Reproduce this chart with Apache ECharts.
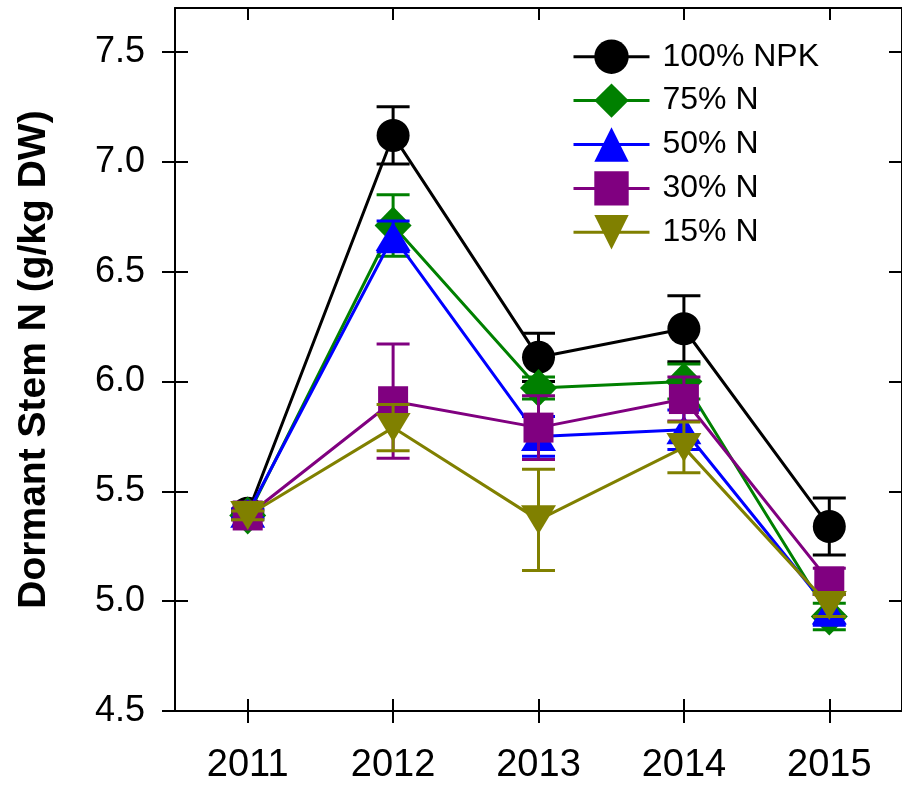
<!DOCTYPE html>
<html><head><meta charset="utf-8">
<script src="https://cdn.jsdelivr.net/npm/echarts@6/dist/echarts.min.js"></script>
<style>html,body{margin:0;padding:0;background:#fff}#c{width:902px;height:785px}</style>
</head><body><div id="c"></div>
<script>
const years = ['2011', '2012', '2013', '2014', '2015'];
const yTicks = [4.5, 5.0, 5.5, 6.0, 6.5, 7.0, 7.5];
const names = ['100% NPK', '75% N', '50% N', '30% N', '15% N'];
const npk100 = [5.40, 7.12, 6.11, 6.24, 5.34];
const npk100Err = [0.02, 0.13, 0.11, 0.15, 0.13];
const n75 = [5.39, 6.71, 5.97, 6.00, 4.93];
const n75Err = [0.02, 0.14, 0.05, 0.08, 0.06];
const n50 = [5.40, 6.66, 5.75, 5.78, 4.96];
const n50Err = [0.02, 0.07, 0.09, 0.09, 0.07];
const n30 = [5.39, 5.91, 5.79, 5.92, 5.09];
const n30Err = [0.02, 0.26, 0.145, 0.10, 0.06];
const n15 = [5.39, 5.79, 5.37, 5.70, 4.98];
const n15Err = [0.02, 0.105, 0.23, 0.115, 0.05];

const FONT = 'Liberation Sans, Arial, sans-serif';
const colors = ['#000000', '#008000', '#0000ff', '#800080', '#808000'];
const vals = [npk100, n75, n50, n30, n15];
const errs = [npk100Err, n75Err, n50Err, n30Err, n15Err];
const symbols = ['circle', 'diamond', 'triangle', 'rect', 'triangle'];
const symSizes = [33, [37, 38], [35, 29], 30, [35, 29]];
const symRot = [0, 0, 0, 0, 180];

function errSeries(v, e, color, z) {
  return {
    type: 'custom',
    xAxisIndex: 0, yAxisIndex: 0,
    silent: true, z: z,
    data: v.map((d, i) => [i, d - e[i], d + e[i]]),
    encode: { x: 0, y: [1, 2] },
    renderItem: function (params, api) {
      const x = api.value(0);
      const lo = api.coord([x, api.value(1)]);
      const hi = api.coord([x, api.value(2)]);
      const hw = 16.5;
      const st = { stroke: color, lineWidth: 3 };
      return {
        type: 'group', children: [
          { type: 'line', shape: { x1: lo[0], y1: lo[1], x2: hi[0], y2: hi[1] }, style: st },
          { type: 'line', shape: { x1: lo[0] - hw, y1: lo[1], x2: lo[0] + hw, y2: lo[1] }, style: st },
          { type: 'line', shape: { x1: hi[0] - hw, y1: hi[1], x2: hi[0] + hw, y2: hi[1] }, style: st }
        ]
      };
    }
  };
}

const series = [];
names.forEach((n, i) => {
  series.push(errSeries(vals[i], errs[i], colors[i], 2 + i * 2));
  series.push({
    type: 'line', name: n, data: vals[i],
    xAxisIndex: 0, yAxisIndex: 0,
    symbol: symbols[i], symbolSize: symSizes[i], symbolRotate: symRot[i],
    showAllSymbol: true,
    lineStyle: { color: colors[i], width: 3 },
    itemStyle: { color: colors[i], borderWidth: 0 },
    emphasis: { disabled: true },
    animation: false,
    z: 3 + i * 2
  });
});

const axLine = { show: true, lineStyle: { color: '#000', width: 2 } };
const tickStyle = { color: '#000', width: 2 };
function yAx(pos, inside, main) {
  return {
    type: 'value', min: 4.5, max: 7.7, position: pos,
    axisLine: main ? axLine : { show: false },
    axisTick: { show: true, inside: inside, length: 13, lineStyle: tickStyle, customValues: yTicks },
    axisLabel: main && pos === 'left' ? { show: true, customValues: yTicks, formatter: v => v.toFixed(1), margin: 30, fontSize: 36, color: '#000', fontFamily: FONT } : { show: false },
    splitLine: { show: false },
    name: main && pos === 'left' ? 'Dormant Stem N (g/kg DW)' : '',
    nameLocation: 'middle', nameGap: 121,
    nameTextStyle: { fontSize: 39, fontWeight: 'bold', color: '#000', fontFamily: FONT }
  };
}
function xAx(pos, inside, main, labels) {
  return {
    type: 'category', data: years, position: pos, boundaryGap: true,
    axisLine: main ? axLine : { show: false },
    axisTick: { show: true, inside: inside, alignWithLabel: true, length: 12, lineStyle: tickStyle },
    axisLabel: labels ? { show: true, margin: 36, fontSize: 38, color: '#000', fontFamily: FONT } : { show: false },
    splitLine: { show: false }
  };
}

const chart = echarts.init(document.getElementById('c'), null, { renderer: 'canvas' });
chart.setOption({
  animation: false,
  backgroundColor: '#fff',
  grid: { left: 175, top: 8, width: 730, height: 706, containLabel: false },
  xAxis: [xAx('bottom', false, true, true), xAx('bottom', true, false, false), xAx('top', true, true, false)],
  yAxis: [yAx('left', false, true), yAx('left', true, false), yAx('right', true, true), yAx('right', false, false)],
  legend: {
    data: names, orient: 'vertical', left: 567, top: 34.5,
    itemWidth: 76, itemHeight: 43, itemGap: 9.5,
    lineStyle: { width: 3 },
    textStyle: { fontSize: 32, color: '#000', fontFamily: FONT, padding: [0, 0, 0, 8] },
    selectedMode: false
  },
  series: series
});
</script></body></html>
